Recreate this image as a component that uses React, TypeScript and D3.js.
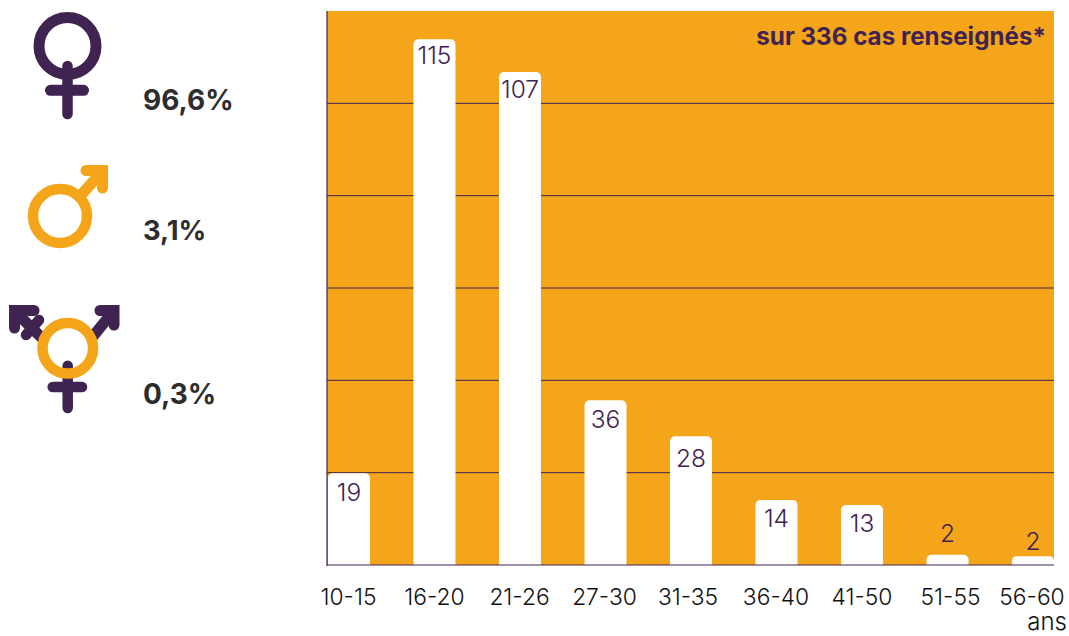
import React from "react";
import * as d3 from "d3";

const categories = ["10-15", "16-20", "21-26", "27-30", "31-35", "36-40", "41-50", "51-55", "56-60"];
const printedValues = [19, 115, 107, 36, 28, 14, 13, 2, 2];
// bar heights as drawn in the picture, in axis units
const barValues = [19.9, 113.9, 106.8, 35.7, 27.9, 14.1, 13, 2.2, 1.9];
const gridTicks = [20, 40, 60, 80, 100];
const genderLabels = ["96,6%", "3,1%", "0,3%"];
const axisUnit = "ans";

const PURPLE = "#3f2350";
const ORANGE = "#f5a51a";
const FONT = "Inter, sans-serif";

const x = d3.scaleBand<string>().domain(categories).range([328, 1054]).paddingInner(0.509).paddingOuter(0);
const y = d3.scaleLinear().domain([0, 120]).range([565, 11]);

// hand placement of the labels relative to their bar
const valueBaselineOffset = [28, 24.5, 26.5, 27.5, 31, 27.5, 27.5, -12.5, -6.5];
const tickNudge = [-0.5, 0, -0.5, -1, -3, -0.5, 0, 3, -1];

function topRoundedBar(px: number, top: number, w: number, bottom: number, r: number) {
  const rr = Math.min(r, (bottom - top) / 2);
  const p = d3.path();
  p.moveTo(px, bottom);
  p.lineTo(px, top + rr);
  p.arcTo(px, top, px + rr, top, rr);
  p.lineTo(px + w - rr, top);
  p.arcTo(px + w, top, px + w, top + rr, rr);
  p.lineTo(px + w, bottom);
  p.closePath();
  return p.toString();
}

export default function App() {
  return (
    <svg width={1069} height={636} style={{ position: "absolute", left: 0, top: 0, display: "block" }} fontFamily={FONT}>
      <rect x={327} y={11} width={727} height={554} fill={ORANGE} />
      {gridTicks.map((t) => (
        <line key={t} x1={327} x2={1054} y1={y(t)} y2={y(t)} stroke={PURPLE} strokeWidth={1} />
      ))}
      {categories.map((c, i) => (
        <path key={c} d={topRoundedBar(x(c)!, y(barValues[i]), x.bandwidth(), y(0), 5)} fill="#fff" />
      ))}
      <line x1={327} x2={327} y1={11} y2={566} stroke={PURPLE} strokeWidth={1.2} />
      <line x1={327} x2={1054} y1={565} y2={565} stroke={PURPLE} strokeWidth={1.2} />
      {categories.map((c, i) => (
        <text key={c} x={x(c)! + x.bandwidth() / 2} y={y(barValues[i]) + valueBaselineOffset[i]} textAnchor="middle" fontSize={24.5} fontWeight={300} fill={PURPLE}>
          {printedValues[i]}
        </text>
      ))}
      {categories.map((c, i) => (
        <text key={c} x={x(c)! + x.bandwidth() / 2 + tickNudge[i]} y={605} textAnchor="middle" fontSize={22.8} fontWeight={300} fill="#111">
          {c}
          {i === categories.length - 1 ? (
            <tspan x={1067} y={630} textAnchor="end" fontSize={24}>{axisUnit}</tspan>
          ) : null}
        </text>
      ))}
      <text x={1046} y={45} textAnchor="end" fontSize={24.2} fontWeight={700} fill={PURPLE}>sur 336 cas renseignés*</text>

      <text x={143} y={110} fontSize={28} fontWeight={700} fill="#2d2d2d">{genderLabels[0]}</text>
      <text x={143} y={240} fontSize={27.3} fontWeight={700} fill="#2d2d2d">{genderLabels[1]}</text>
      <text x={143} y={404} fontSize={28} fontWeight={700} fill="#2d2d2d">{genderLabels[2]}</text>

      {/* female */}
      <g fill="none" stroke={PURPLE} strokeLinecap="round">
        <circle cx={67.5} cy={46} r={28.5} strokeWidth={11} />
        <path d="M67.5 66V114" strokeWidth={10.5} />
        <path d="M50.5 90.3H83.5" strokeWidth={11} />
      </g>
      {/* male */}
      <g fill="none" stroke={ORANGE}>
        <circle cx={60} cy={216} r={27} strokeWidth={10.5} />
        <path d="M82 194L103 170.5" strokeWidth={11} />
        <path d="M86 170.5H102.5V188" strokeWidth={11} strokeLinecap="round" />
      </g>
      {/* transgender */}
      <g fill="none" stroke={PURPLE}>
        <path d="M67.7 365.7V408" strokeWidth={10.5} strokeLinecap="round" />
        <path d="M52.7 387H82" strokeWidth={10.5} strokeLinecap="round" />
        <path d="M90 340L114 310.5" strokeWidth={11} />
        <path d="M100 310.5H114V325" strokeWidth={11} strokeLinecap="round" />
        <path d="M44 340L14 310.5" strokeWidth={11} />
        <path d="M34 310.5H14.5V328" strokeWidth={11} strokeLinecap="round" />
        <path d="M26 335L39 320" strokeWidth={10.5} strokeLinecap="round" />
      </g>
      <circle cx={67.8} cy={348.3} r={25.3} fill="none" stroke={ORANGE} strokeWidth={10.5} />
    </svg>
  );
}
